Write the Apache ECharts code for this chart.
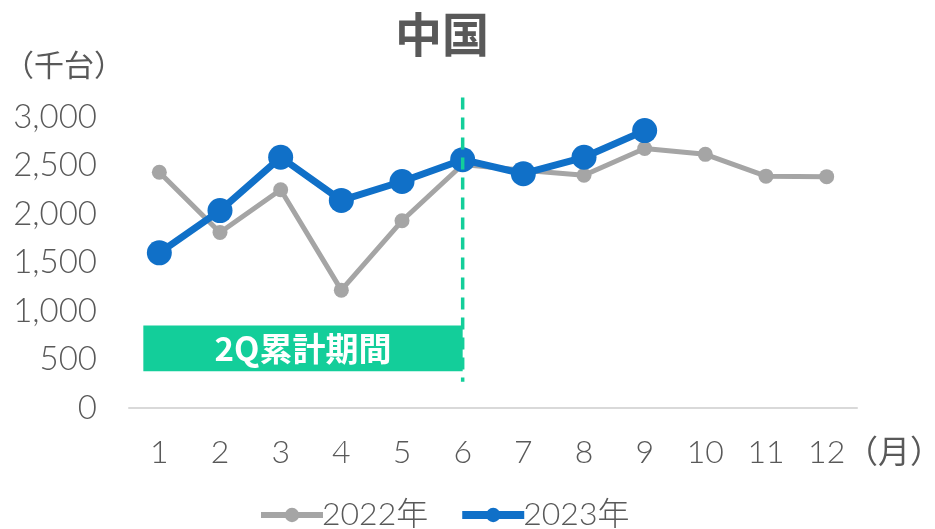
<!DOCTYPE html>
<html>
<head>
<meta charset="utf-8">
<script src="https://cdn.jsdelivr.net/npm/echarts@6/dist/echarts.min.js"></script>
<style>
  html, body { margin: 0; padding: 0; background: #fff; }
  #main { width: 935px; height: 529px; }
</style>
</head>
<body>
<div id="main"></div>
<script>
// 月
var months = ['1', '2', '3', '4', '5', '6', '7', '8', '9', '10', '11', '12']
// 千台
var sales2022 = [2430, 1810, 2250, 1215, 1930, 2510, 2450, 2400, 2675, 2615, 2390, 2385]
var sales2023 = [1600, 2035, 2585, 2140, 2335, 2560, 2415, 2585, 2860]
var yTicks = [0, 3000, 500]

var labelFont = '"Lato", "Noto Sans CJK JP", sans-serif'
var cjkFont = '"Noto Sans CJK JP", sans-serif'
var green = '#13CE9A'
var textColor = '#595959'

var myChart = echarts.init(document.getElementById('main'))

var option = {
  animation: false,
  title: {
    text: '中国',
    left: 390,
    top: 6,
    textStyle: { fontFamily: cjkFont, fontSize: 47, fontWeight: 'bold', color: textColor }
  },
  color: ['#A5A5A5', '#1070C8'],
  legend: {
    bottom: -7,
    left: 253,
    itemWidth: 62,
    itemHeight: 18,
    itemGap: 30,
    textStyle: { fontFamily: labelFont, fontWeight: 300, fontSize: 32, color: textColor, padding: [0, 0, 0, -6] },
    data: [
      { name: '2022年', lineStyle: { width: 6 } },
      { name: '2023年', lineStyle: { width: 8 } }
    ]
  },
  grid: {
    left: 129,
    right: 78,
    top: 117,
    bottom: 121,
    containLabel: false
  },
  xAxis: {
    type: 'category',
    boundaryGap: true,
    data: months,
    axisLine: { lineStyle: { color: '#D9D9D9', width: 2 } },
    axisTick: { show: false },
    axisLabel: { fontFamily: labelFont, fontWeight: 300, fontSize: 32, color: textColor, margin: 29 }
  },
  yAxis: {
    type: 'value',
    min: yTicks[0],
    max: yTicks[1],
    interval: yTicks[2],
    splitLine: { show: false },
    axisLine: { show: false },
    axisTick: { show: false },
    axisLabel: {
      fontFamily: labelFont, fontWeight: 300, fontSize: 33, color: textColor, margin: 32,
      formatter: function (v) { return v.toLocaleString('en-US') }
    }
  },
  series: [
    {
      name: '2022年',
      type: 'line',
      data: sales2022,
      symbol: 'circle',
      symbolSize: 15,
      lineStyle: { width: 5, color: '#A5A5A5' },
      itemStyle: { color: '#A5A5A5' },
      z: 2
    },
    {
      name: '2023年',
      type: 'line',
      data: sales2023,
      symbol: 'circle',
      symbolSize: 25,
      lineStyle: { width: 7, color: '#1070C8' },
      itemStyle: { color: '#1070C8' },
      z: 3
    }
  ]
}
myChart.setOption(option)

// 注記（2Q累計期間・区切り線・単位）
var pTop = myChart.convertToPixel({ gridIndex: 0 }, ['6', 3200])
var pBot = myChart.convertToPixel({ gridIndex: 0 }, ['6', 270])
var boxA = myChart.convertToPixel({ gridIndex: 0 }, ['1', 850])
var boxB = myChart.convertToPixel({ gridIndex: 0 }, ['6', 380])
var boxLeft = boxA[0] - 16

myChart.setOption({
  graphic: [
    {
      type: 'rect',
      shape: { x: boxLeft, y: boxA[1], width: boxB[0] - boxLeft, height: boxB[1] - boxA[1] },
      style: { fill: green },
      z: 1
    },
    {
      type: 'text',
      x: (boxLeft + boxB[0]) / 2,
      y: (boxA[1] + boxB[1]) / 2,
      style: {
        text: '2Q累計期間', fill: '#fff', font: 'bold 33px ' + cjkFont,
        align: 'center', verticalAlign: 'middle'
      },
      z: 2
    },
    {
      type: 'line',
      shape: { x1: pTop[0], y1: pTop[1], x2: pBot[0], y2: pBot[1] },
      style: { stroke: green, lineWidth: 3.5, lineDash: [12, 8] },
      z: 10
    },
    {
      type: 'text',
      left: 4,
      top: 50,
      style: { text: '（千台）', fill: textColor, font: '30px ' + cjkFont }
    },
    {
      type: 'text',
      left: 846,
      top: 435,
      style: { text: '（月）', fill: textColor, font: '32px ' + cjkFont }
    }
  ]
})
</script>
</body>
</html>
